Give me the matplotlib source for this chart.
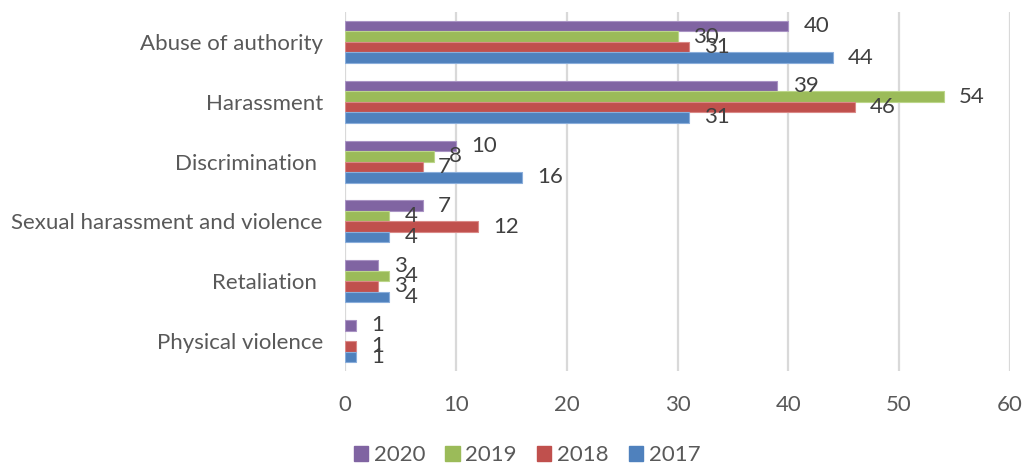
import numpy as np
import matplotlib
matplotlib.use("Agg")
import matplotlib.pyplot as plt
from matplotlib.patches import Patch

categories = ["Abuse of authority", "Harassment", "Discrimination ",
              "Sexual harassment and violence", "Retaliation ", "Physical violence"]
series_names = ["2020", "2019", "2018", "2017"]
v2020 = [40, 39, 10, 7, 3, 1]
v2019 = [30, 54, 8, 4, 4, np.nan]
v2018 = [31, 46, 7, 12, 3, 1]
v2017 = [44, 31, 16, 4, 4, 1]
x_ticks = [0, 10, 20, 30, 40, 50, 60]

colors = ["#8064A2", "#9BBB59", "#C0504D", "#4F81BD"]
edges = ["#A993C4", "#BCD68A", "#DA8987", "#8AAEDB"]

plt.rcParams['font.family'] = ['Lato', 'DejaVu Sans']
FS = 16

fig = plt.figure(figsize=(10.26, 4.66), dpi=100)
ax = fig.add_axes([345/1026, 1-371/466, 665/1026, 359/466])

n = len(categories)
ypos = np.arange(n)[::-1].astype(float)
h = 0.175
offsets = [1.5*h, 0.5*h, -0.5*h, -1.5*h]
all_vals = [v2020, v2019, v2018, v2017]

for vals, c, e, off in zip(all_vals, colors, edges, offsets):
    vals = np.array(vals, dtype=float)
    ys = ypos + off
    mask = ~np.isnan(vals)
    ax.barh(ys[mask], vals[mask], height=h, color=c, edgecolor=e, linewidth=0.8, zorder=3)
    for y, v in zip(ys[mask], vals[mask]):
        ax.annotate(f"{int(v)}", xy=(v, y), xytext=(11, 0), textcoords="offset points",
                    ha="left", va="center", fontsize=FS, color="#404040", zorder=4)

ax.set_xlim(0, 60)
ax.set_ylim(-0.5, n-0.5)
ax.set_xticks(x_ticks)
ax.set_xticklabels([str(t) for t in x_ticks])
ax.set_yticks(ypos)
ax.set_yticklabels(categories)
ax.tick_params(axis='x', length=0, pad=17, labelsize=FS, labelcolor="#595959")
ax.tick_params(axis='y', length=0, pad=16, labelsize=FS, labelcolor="#595959")
for s in ax.spines.values():
    s.set_visible(False)
ax.xaxis.grid(True, color="#d9d9d9", linewidth=1.6, zorder=0)
ax.set_axisbelow(True)

handles = [Patch(facecolor=c, edgecolor=c) for c in colors]
fig.legend(handles, series_names, loc="center", bbox_to_anchor=(527/1026, 1-455/466),
           ncol=4, frameon=False, fontsize=FS, labelcolor="#595959",
           handlelength=0.65, handleheight=0.65, handletextpad=0.25, columnspacing=0.9)

fig.savefig("out.png", dpi=100)
